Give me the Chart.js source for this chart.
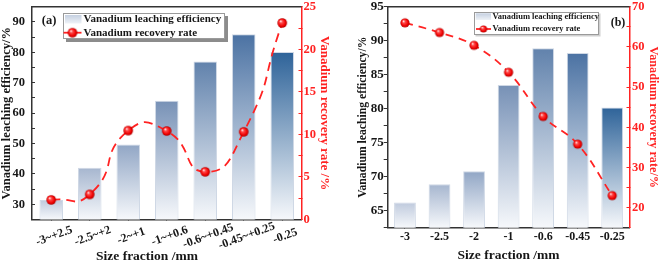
<!DOCTYPE html>
<html><head><meta charset="utf-8">
<script src="https://cdn.jsdelivr.net/npm/chart.js@4.4.1/dist/chart.umd.min.js"></script>
<style>
html,body{margin:0;padding:0;background:#fff;}
#wrap{position:relative;width:662px;height:263px;overflow:hidden;background:#fff;}
.c{position:absolute;top:0;width:331px;height:263px;}
</style></head><body>
<div id="wrap">
<div class="c" style="left:0"><canvas id="ca" width="331" height="263"></canvas></div>
<div class="c" style="left:331px"><canvas id="cb" width="331" height="263"></canvas></div>
</div>
<script>
// ---------- data ----------
const categoriesA = ['-3~+2.5', '-2.5~+2', '-2~+1', '-1~+0.6', '-0.6~+0.45', '-0.45~+0.25', '-0.25'];
const leachingA = [31.4, 42.0, 49.7, 64.1, 77.0, 86.0, 80.1];
const recoveryA = [2.3, 2.95, 10.45, 10.4, 5.6, 10.3, 23.1];
const leftTicksA = [30, 40, 50, 60, 70, 80, 90];
const rightTicksA = [0, 5, 10, 15, 20, 25];

const categoriesB = ['-3', '-2.5', '-2', '-1', '-0.6', '-0.45', '-0.25'];
const leachingB = [66.2, 68.9, 70.8, 83.5, 88.9, 88.2, 80.2];
const recoveryB = [66.0, 63.6, 60.4, 53.7, 42.7, 35.8, 23.0];
const leftTicksB = [65, 70, 75, 80, 85, 90, 95];
const rightTicksB = [20, 30, 40, 50, 60, 70];

const barLabel = 'Vanadium leaching efficiency';
const lineLabel = 'Vanadium recovery rate';

// ---------- style ----------
const FONT = '"Liberation Serif", "Times New Roman", serif';
const RED = '#ff2323';
const AXIS = '#333333';
const TXT = '#161616';
const barTopColors = ['#bfcadd', '#a6b6cf', '#91a6c5', '#7791b6', '#6182ac', '#4b72a3', '#2e6399'];
const barBottomColor = '#f6f8fb';

Chart.defaults.font.family = FONT;
Chart.defaults.font.weight = 'bold';

function makeBall(r) {
  const s = Math.ceil(r * 2 + 2);
  const c = document.createElement('canvas');
  c.width = s; c.height = s;
  const g = c.getContext('2d');
  const cx = s / 2, cy = s / 2;
  const grad = g.createRadialGradient(cx - r * 0.35, cy - r * 0.4, r * 0.05, cx, cy, r);
  grad.addColorStop(0, '#fff2f2');
  grad.addColorStop(0.28, '#ff4a4a');
  grad.addColorStop(0.75, '#f00000');
  grad.addColorStop(1, '#a80000');
  g.beginPath(); g.arc(cx, cy, r, 0, Math.PI * 2); g.fillStyle = grad; g.fill();
  return c;
}
const ballA = makeBall(4.8);
const ballB = makeBall(4.6);

function barGradient(ctx) {
  const chart = ctx.chart;
  const area = chart.chartArea;
  const col = barTopColors[ctx.dataIndex % barTopColors.length];
  if (!area || ctx.raw === undefined) return col;
  const yTop = chart.scales.y.getPixelForValue(ctx.raw);
  const g = chart.ctx.createLinearGradient(0, yTop, 0, area.bottom);
  g.addColorStop(0, col);
  g.addColorStop(1, barBottomColor);
  return g;
}

function drawLegend(chart, L) {
  const ctx = chart.ctx;
  ctx.save();
  if (L.shadow) {
    ctx.fillStyle = L.shadow;
    ctx.fillRect(L.x + L.sh, L.y + L.sh, L.w, L.h);
  }
  ctx.fillStyle = '#ffffff';
  ctx.fillRect(L.x, L.y, L.w, L.h);
  ctx.strokeStyle = '#9a9a9a';
  ctx.lineWidth = 1;
  ctx.strokeRect(L.x + 0.5, L.y + 0.5, L.w - 1, L.h - 1);
  // swatch
  const sg = ctx.createLinearGradient(0, L.sw.y, 0, L.sw.y + L.sw.h);
  sg.addColorStop(0, '#c5d0e1'); sg.addColorStop(1, '#eef2f7');
  ctx.fillStyle = sg;
  ctx.fillRect(L.sw.x, L.sw.y, L.sw.w, L.sw.h);
  // line sample
  ctx.strokeStyle = RED; ctx.lineWidth = 1.8;
  ctx.beginPath(); ctx.moveTo(L.ln.x1, L.ln.y); ctx.lineTo(L.ln.x2, L.ln.y); ctx.stroke();
  const b = L.ball;
  ctx.drawImage(b, (L.ln.x1 + L.ln.x2) / 2 - b.width / 2, L.ln.y - b.height / 2);
  ctx.fillStyle = TXT;
  ctx.font = 'bold ' + L.fs + 'px ' + FONT;
  ctx.textAlign = 'left'; ctx.textBaseline = 'middle';
  ctx.fillText(barLabel, L.tx, L.ty1);
  ctx.fillText(lineLabel, L.tx, L.ty2);
  // panel tag
  ctx.font = 'bold ' + L.tagFs + 'px ' + FONT;
  ctx.textAlign = 'center';
  ctx.fillText(L.tag, L.tagX, L.tagY);
  ctx.restore();
}

const framePlugin = {
  id: 'frame',
  afterDraw(chart, args, opts) {
    const ctx = chart.ctx, a = chart.chartArea;
    ctx.save();
    ctx.strokeStyle = AXIS; ctx.lineWidth = 1.5;
    ctx.beginPath(); ctx.moveTo(a.left, a.top); ctx.lineTo(a.right, a.top); ctx.stroke();
    ctx.restore();
    drawLegend(chart, opts.legend);
    if (opts.rotLabels) {
      const sc = chart.scales.x;
      ctx.save();
      ctx.fillStyle = TXT;
      ctx.font = 'bold 12px ' + FONT;
      ctx.textAlign = 'center'; ctx.textBaseline = 'middle';
      chart.data.labels.forEach((lab, i) => {
        const x = sc.getPixelForTick(i);
        ctx.save();
        ctx.translate(x + 3, sc.top + 16.5);
        ctx.rotate(-20 * Math.PI / 180);
        ctx.fillText(lab, 0, 0);
        ctx.restore();
      });
      ctx.font = 'bold 13.5px ' + FONT;
      ctx.fillText(opts.xTitle, opts.xTitleX, opts.xTitleY);
      ctx.restore();
    }
  }
};

function yTickCb(list) {
  return function (v) { return list.includes(v) ? String(v) : ''; };
}

// ---------- chart (a) ----------
new Chart(document.getElementById('ca'), {
  data: {
    labels: categoriesA,
    datasets: [
      {
        type: 'line', label: lineLabel, data: recoveryA, yAxisID: 'y1', order: 0,
        borderColor: RED, borderWidth: 1.8, borderDash: [9, 6], tension: 0.6,
        pointStyle: ballA, pointRadius: 5, fill: false
      },
      {
        type: 'bar', label: barLabel, data: leachingA, yAxisID: 'y', order: 1,
        backgroundColor: barGradient, borderColor: '#cfd8e5', borderWidth: 1,
        barPercentage: 0.61, categoryPercentage: 1
      }
    ]
  },
  options: {
    responsive: false, animation: false, devicePixelRatio: 1,
    layout: { padding: { top: 5, left: 0, right: 0, bottom: 0 } },
    plugins: {
      legend: { display: false }, tooltip: { enabled: false },
      frame: {
        legend: {
          x: 63, y: 13, w: 162, h: 26, shadow: '#8c8c8c', sh: 3,
          sw: { x: 65, y: 15, w: 16.5, h: 8.5 }, ln: { x1: 63.5, x2: 81.5, y: 32.7 }, ball: ballA,
          fs: 11, tx: 83.5, ty1: 19.3, ty2: 32.7, tag: '(a)', tagFs: 12.5, tagX: 49, tagY: 20.5
        },
        rotLabels: true, xTitle: 'Size fraction /mm', xTitleX: 147, xTitleY: 256.5
      }
    },
    scales: {
      x: {
        type: 'category', offset: true,
        grid: { display: true, drawOnChartArea: false, offset: false, tickLength: -3, color: AXIS, tickWidth: 1 },
        border: { display: true, color: AXIS, width: 1.5 },
        ticks: { display: false },
        afterFit: s => { s.height = 43.5; s.paddingLeft = 0; s.paddingRight = 0; }
      },
      y: {
        position: 'left', min: 25, max: 95,
        ticks: { stepSize: 5, autoSkip: false, callback: yTickCb(leftTicksA), color: TXT, padding: 10,
                 font: { size: 12.5, weight: 'bold', family: FONT } },
        grid: { drawOnChartArea: false, tickLength: -3, color: AXIS },
        border: { display: true, color: AXIS, width: 1.5 },
        title: { display: true, text: 'Vanadium leaching efficiency/%', color: TXT, padding: 0,
                 font: { size: 12.5, weight: 'bold', family: FONT, lineHeight: 1.1 } },
        afterFit: s => { s.width = 32; s.paddingTop = 0; s.paddingBottom = 0; }
      },
      y1: {
        position: 'right', min: 0, max: 25,
        ticks: { stepSize: 2.5, autoSkip: false, callback: yTickCb(rightTicksA), color: RED, padding: 5,
                 font: { size: 12.5, weight: 'bold', family: FONT } },
        grid: { drawOnChartArea: false, tickLength: -3, color: RED },
        border: { display: true, color: RED, width: 1.5 },
        title: { display: true, text: 'Vanadium recovery rate /%', color: RED, padding: 0,
                 font: { size: 13, weight: 'bold', family: FONT, lineHeight: 1.0 } },
        afterFit: s => { s.width = 29.5; s.paddingTop = 0; s.paddingBottom = 0; }
      }
    }
  },
  plugins: [framePlugin]
});

// ---------- chart (b) ----------
new Chart(document.getElementById('cb'), {
  data: {
    labels: categoriesB,
    datasets: [
      {
        type: 'line', label: lineLabel, data: recoveryB, yAxisID: 'y1', order: 0,
        borderColor: RED, borderWidth: 1.8, borderDash: [8, 6], tension: 0.4,
        pointStyle: ballB, pointRadius: 5, fill: false
      },
      {
        type: 'bar', label: barLabel, data: leachingB, yAxisID: 'y', order: 1,
        backgroundColor: barGradient, borderColor: '#cfd8e5', borderWidth: 1,
        barPercentage: 0.63, categoryPercentage: 1
      }
    ]
  },
  options: {
    responsive: false, animation: false, devicePixelRatio: 1,
    layout: { padding: { top: 5.7, left: 0, right: 0, bottom: 0 } },
    plugins: {
      legend: { display: false }, tooltip: { enabled: false },
      frame: {
        legend: {
          x: 143, y: 12, w: 125, h: 23, shadow: '#cfcfcf', sh: 1.5,
          sw: { x: 144.7, y: 13.3, w: 15.3, h: 6.7 }, ln: { x1: 145, x2: 160, y: 29 }, ball: makeBall(3.6),
          fs: 8.5, tx: 161.5, ty1: 16.7, ty2: 29, tag: '(b)', tagFs: 12, tagX: 287, tagY: 22.5
        },
        rotLabels: false
      }
    },
    scales: {
      x: {
        type: 'category', offset: true,
        grid: { display: true, drawOnChartArea: false, offset: false, tickLength: -3, color: AXIS, tickWidth: 1 },
        border: { display: true, color: AXIS, width: 1.5 },
        ticks: { color: TXT, padding: 5.2, maxRotation: 0, minRotation: 0, autoSkip: false,
                 font: { size: 12, weight: 'bold', family: FONT } },
        title: { display: true, text: 'Size fraction /mm', color: TXT, padding: { top: 0, bottom: 0.5 },
                 font: { size: 13.5, weight: 'bold', family: FONT, lineHeight: 1.0 } },
        afterFit: s => { s.height = 35.3; s.paddingLeft = 0; s.paddingRight = 0; }
      },
      y: {
        position: 'left', min: 62.5, max: 95,
        ticks: { stepSize: 2.5, autoSkip: false, callback: yTickCb(leftTicksB), color: TXT, padding: 0,
                 font: { size: 13, weight: 'bold', family: FONT } },
        grid: { drawOnChartArea: false, tickLength: 4, color: AXIS },
        border: { display: true, color: AXIS, width: 1.5 },
        title: { display: true, text: 'Vanadium leaching efficiency/%', color: TXT, padding: { top: 24.7, bottom: 0 },
                 font: { size: 11.7, weight: 'bold', family: FONT, lineHeight: 1.2 } },
        afterFit: s => { s.width = 56.7; s.paddingTop = 0; s.paddingBottom = 0; }
      },
      y1: {
        position: 'right', min: 15, max: 70,
        ticks: { stepSize: 5, autoSkip: false, callback: yTickCb(rightTicksB), color: RED, padding: 5.5,
                 font: { size: 12.5, weight: 'bold', family: FONT } },
        grid: { drawOnChartArea: false, tickLength: -3, color: RED },
        border: { display: true, color: RED, width: 1.5 },
        title: { display: true, text: 'Vanadium recovery rate/%', color: RED, padding: { top: 2, bottom: 0 },
                 font: { size: 12.2, weight: 'bold', family: FONT, lineHeight: 1.2 } },
        afterFit: s => { s.width = 32.5; s.paddingTop = 0; s.paddingBottom = 0; }
      }
    }
  },
  plugins: [framePlugin]
});
</script>
</body></html>
